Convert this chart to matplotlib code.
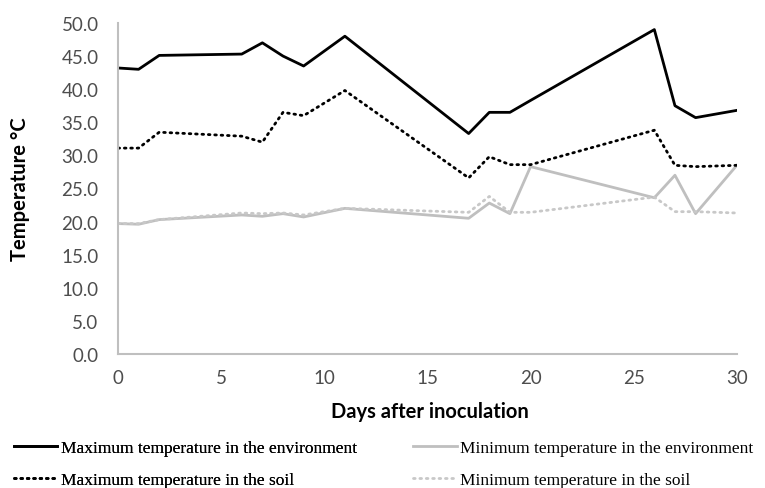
import matplotlib.pyplot as plt

# days with readings
days = [0, 1, 2, 6, 7, 8, 9, 11, 17, 18, 19, 20, 26, 27, 28, 30]

max_env = [43.2, 43.0, 45.1, 45.3, 47.0, 45.0, 43.5, 48.0, 33.3, 36.5, 36.5, 38.3, 49.0, 37.5, 35.7, 36.8]
min_env = [19.7, 19.6, 20.3, 21.0, 20.8, 21.2, 20.7, 22.0, 20.5, 22.8, 21.2, 28.3, 23.6, 27.0, 21.2, 28.5]
max_soil = [31.1, 31.1, 33.5, 32.9, 32.0, 36.5, 36.0, 39.8, 26.6, 29.8, 28.6, 28.6, 33.8, 28.5, 28.3, 28.5]
min_soil = [19.7, 19.7, 20.3, 21.3, 21.2, 21.3, 21.0, 22.0, 21.4, 23.8, 21.4, 21.4, 23.7, 21.5, 21.5, 21.3]

labels = ['Maximum temperature in the environment',
          'Minimum temperature in the environment',
          'Maximum temperature in the soil',
          'Minimum temperature in the soil']

fig = plt.figure(figsize=(7.65, 4.89), dpi=100)
ax = fig.add_axes([0.1542, 0.274, 0.809, 0.677])

dot = (0, (0.6, 1.7))
l1, = ax.plot(days, max_env, color='black', lw=2.0, label=labels[0])
l2, = ax.plot(days, min_env, color='#bfbfbf', lw=2.0, label=labels[1])
l3, = ax.plot(days, max_soil, color='black', lw=2.0, ls=dot,
              dash_capstyle='round', label=labels[2])
l4, = ax.plot(days, min_soil, color='#c8c8c8', lw=2.0, ls=dot,
              dash_capstyle='round', label=labels[3])

ax.set_xlim(0, 30)
ax.set_ylim(0, 50)
ax.set_xticks([0, 5, 10, 15, 20, 25, 30])
ax.set_yticks([i * 5 for i in range(11)])
ax.set_yticklabels([f'{i * 5:.1f}' for i in range(11)])
ax.tick_params(length=0, labelsize=13.5, labelcolor='#4d4d4d')
ax.tick_params(axis='y', pad=14)
ax.tick_params(axis='x', pad=11)
for lab in ax.get_xticklabels() + ax.get_yticklabels():
    lab.set_family('Lato')

for s in ['top', 'right']:
    ax.spines[s].set_visible(False)
for s in ['left', 'bottom']:
    ax.spines[s].set_color('#bfbfbf')
    ax.spines[s].set_linewidth(1.5)

ax.set_ylabel('Temperature °C', fontsize=14.5, fontweight='bold', family='Lato', va='center')
ax.set_xlabel('Days after inoculation', fontsize=14.5, fontweight='bold', family='Lato', va='center')
ax.yaxis.set_label_coords(-0.158, 0.50)
ax.xaxis.set_label_coords(0.504, -0.172)

# two one-column legends so each column sits where the reference has it
leg_kw = dict(loc='lower left', frameon=False, borderpad=0, borderaxespad=0,
              prop={'family': 'Liberation Serif', 'size': 12.5},
              handlelength=2.5, handletextpad=0.2, labelspacing=0.9)
leg1 = fig.legend(handles=[l1, l3], bbox_to_anchor=(0.018, 0.0), **leg_kw)
fig.add_artist(leg1)
fig.legend(handles=[l2, l4], bbox_to_anchor=(0.54, 0.0), **leg_kw)

fig.savefig('out.png', dpi=100)
